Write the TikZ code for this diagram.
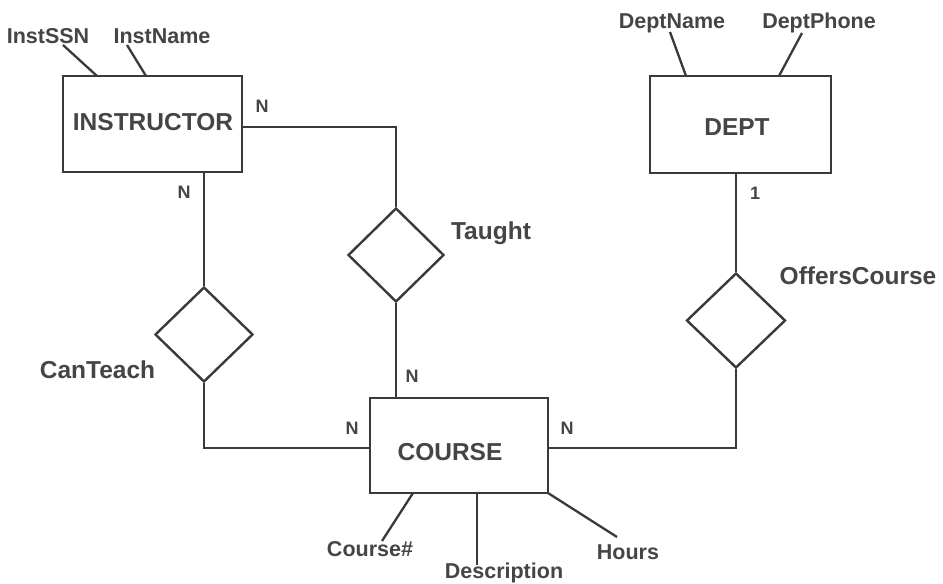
\documentclass[tikz,border=0pt]{standalone}
\usepackage{fontspec}
\setmainfont{Liberation Sans}
\usetikzlibrary{shapes.geometric}
\definecolor{ink}{HTML}{3A3A3A}
\definecolor{txt}{HTML}{454545}
\begin{document}
\begin{tikzpicture}[x=1pt,y=-1pt,
  entity/.style={draw=ink,line width=2.6pt,rectangle,inner sep=0pt},
  rel/.style={draw=ink,line width=2.4pt,diamond,inner sep=0pt},
  rlabel/.style={text=txt,inner sep=0pt,font=\fontsize{24.5}{28}\selectfont\bfseries},
  attr/.style={text=txt,inner sep=0pt,font=\fontsize{21.5}{24}\selectfont\bfseries},
  card/.style={text=txt,inner sep=0pt,font=\fontsize{18}{20}\selectfont\bfseries},
  conn/.style={draw=ink,line width=2.3pt}]
\useasboundingbox (0,0) rectangle (943,584);
\fill[white] (0,0) rectangle (943,584);

% entities
\node[entity,minimum width=179pt,minimum height=96pt] (inst) at (152.5,124) {};
\node[rlabel] (instT) at (153,122) {INSTRUCTOR};
\node[entity,minimum width=181pt,minimum height=97pt] (dept) at (740.5,124.5) {};
\node[rlabel] (deptT) at (737,127) {DEPT};
\node[entity,minimum width=178pt,minimum height=95pt] (course) at (459,445.5) {};
\node[rlabel] (courseT) at (450,452) {COURSE};

% relationships
\node[rel,minimum width=98pt,minimum height=95pt] (canteach) at (204,334.5) {};
\node[rel,minimum width=96pt,minimum height=94pt] (taught) at (396,255) {};
\node[rel,minimum width=99pt,minimum height=95pt] (offers) at (736,320.5) {};

\node[rlabel] (canteachL) at (97.5,370) {CanTeach};
\node[rlabel] (taughtL) at (491,233) {Taught};
\node[rlabel] (offersL) at (858,276) {OffersCourse};

% connectors
\draw[conn] ([yshift=-3pt]inst.east) -| (taught.north);
\draw[conn] (taught.south) -- (taught.south |- course.north);
\draw[conn] (canteach.north) -- (canteach.north |- inst.south);
\draw[conn] (canteach.south) |- ([yshift=-2.5pt]course.west);
\draw[conn] (offers.north) -- (offers.north |- dept.south);
\draw[conn] (offers.south) |- ([yshift=-2.5pt]course.east);

% cardinalities
\node[card] (n1) at (262,106) {N};
\node[card] (n2) at (184,192) {N};
\node[card] (n3) at (412,376) {N};
\node[card] (n4) at (352,428) {N};
\node[card] (n5) at (567,428) {N};
\node[card] (one) at (755,193) {1};

% attributes
\node[attr] (ssn) at (48,36) {InstSSN};
\node[attr] (iname) at (162,36) {InstName};
\node[attr] (dname) at (672,23) {DeptName};
\node[attr] (dphone) at (819,23) {DeptPhone};
\node[attr] (cnum) at (370,549) {Course\#};
\node[attr] (desc) at (504,573) {Description};
\node[attr] (hours) at (628,552) {Hours};

\coordinate (ssnA) at (63,45);   \coordinate (ssnB) at (97,76);
\coordinate (inA) at (127,45);   \coordinate (inB) at (146,76);
\coordinate (dnA) at (670,32);   \coordinate (dnB) at (686,76);
\coordinate (dpA) at (802,33);   \coordinate (dpB) at (779,76);
\coordinate (cnA) at (382,541);  \coordinate (cnB) at (413,493);
\coordinate (deA) at (477,565);  \coordinate (deB) at (477,493);
\coordinate (hoA) at (617,537);  \coordinate (hoB) at (548,493);

\draw[conn] (ssnA) -- (ssnB);
\draw[conn] (inA) -- (inB);
\draw[conn] (dnA) -- (dnB);
\draw[conn] (dpA) -- (dpB);
\draw[conn] (cnA) -- (cnB);
\draw[conn] (deA) -- (deB);
\draw[conn] (hoA) -- (hoB);
\end{tikzpicture}
\end{document}
